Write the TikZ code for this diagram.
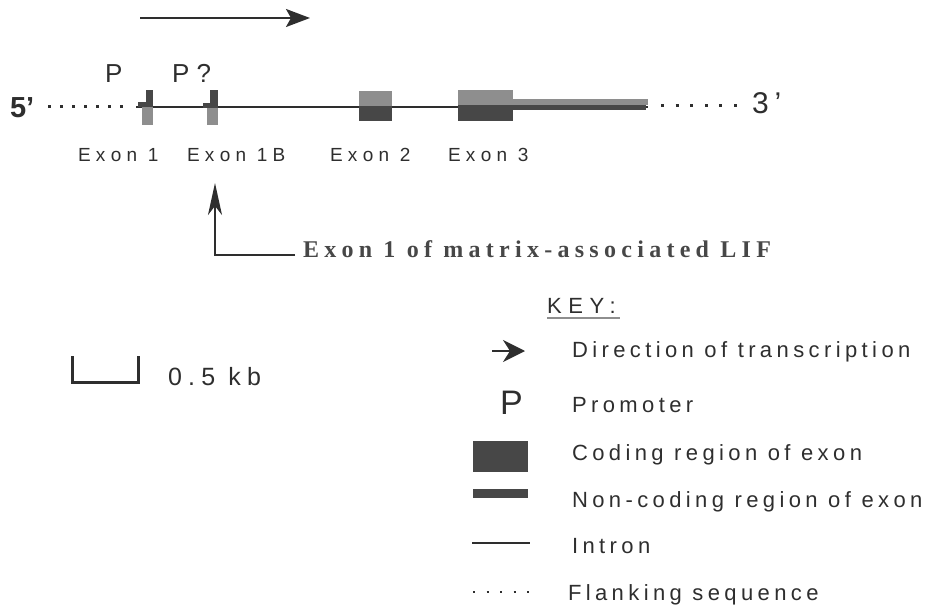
\documentclass[tikz,border=0pt]{standalone}
\usepackage{fontspec}
\setmainfont{Liberation Sans}
\newfontfamily\lifserif{Liberation Serif}
\usetikzlibrary{arrows.meta}
\definecolor{codedark}{HTML}{474747}
\definecolor{codelight}{HTML}{8E8E8E}
\definecolor{inkgray}{HTML}{2E2E2E}
\newcommand\spfont[2]{\fontsize{#1}{#1}\selectfont\addfontfeatures{LetterSpace=#2}}
\tikzset{
  txt/.style={inner sep=0pt, outer sep=0pt, anchor=base west, text=inkgray},
  exonlbl/.style={txt, font=\spfont{19}{28}},
  keylbl/.style={txt, font=\spfont{22}{20}},
  endlbl/.style={txt, font=\spfont{30}{20}},
  plbl/.style={txt, font=\fontsize{26}{26}\selectfont},
  flank/.style={draw=inkgray, line width=3pt, dash pattern=on 3pt off 9pt},
  intron/.style={draw=inkgray, line width=1.6pt},
  darkpart/.style={fill=codedark, draw=none},
  lightpart/.style={fill=codelight, draw=none},
  bigarrow/.style={draw=inkgray, line width=2pt, -{Stealth[length=24pt,width=18pt,inset=5pt]}},
}
\begin{document}
\begin{tikzpicture}[x=1pt,y=-1pt]
\useasboundingbox (0,0) rectangle (945,607);

% direction of transcription arrow
\coordinate (dirA) at (140,18);
\coordinate (dirB) at (310,18);
\draw[bigarrow] (dirA) -- (dirB);

% promoters
\node[plbl] (p1) at (105,83) {P};
\node[plbl] (p2) at (172,83) {P ?};

% ends
\node[txt, font=\bfseries\fontsize{29}{29}\selectfont] (five) at (10,118) {5’};
\node[endlbl] (three) at (752,114) {3’};

% flanking sequence
\coordinate (fl5a) at (48,107);
\coordinate (fl5b) at (130,107);
\coordinate (fl3a) at (661,106);
\coordinate (fl3b) at (737,106);
\draw[flank] (fl5a) -- (fl5b);
\draw[flank, dash pattern=on 3pt off 11.6pt] (fl3a) -- (fl3b);

% intron line
\coordinate (inA) at (136,107);
\coordinate (inB) at (648,107);
\draw[intron] (inA) -- (inB);

% exon 1
\fill[darkpart] (146,90) rectangle (153,107);
\fill[darkpart] (138,102) rectangle (153,107.5);
\fill[lightpart] (142,107.5) rectangle (153,125);
% exon 1B
\fill[darkpart] (210,90) rectangle (218,107);
\fill[darkpart] (203,103) rectangle (218,108);
\fill[lightpart] (207,108) rectangle (218,125);
% exon 2
\fill[lightpart] (359,91) rectangle (392,106);
\fill[darkpart] (359,106) rectangle (392,121);
% exon 3
\fill[lightpart] (458,90) rectangle (513,105);
\fill[darkpart] (458,105) rectangle (513,121);
% 3' UTR
\fill[lightpart] (513,99) rectangle (648,105);
\fill[darkpart] (513,105) rectangle (646,110);

% exon labels
\node[exonlbl] (e1) at (78,161) {Exon 1};
\node[exonlbl] (e1b) at (187,161) {Exon 1B};
\node[exonlbl] (e2) at (330,161) {Exon 2};
\node[exonlbl] (e3) at (448,161) {Exon 3};

% matrix-associated LIF
\node[txt, anchor=base west, font=\lifserif\bfseries\fontsize{24}{24}\selectfont\addfontfeatures{LetterSpace=22}, text=codedark] (lif) at (303,257) {Exon 1 of matrix-associated LIF};
\coordinate (liftip) at (215,183);
\coordinate (lifcorner) at (215,255);
\coordinate (lifstart) at (295,255);
\draw[draw=inkgray, line width=2.2pt, -{Stealth[length=32pt,width=14pt,inset=9pt]}] (lifstart) -- (lifcorner) -- (liftip);

% scale bar
\draw[draw=inkgray, line width=3pt] (72,356) -- (72,382) -- (138,382) -- (138,356);
\node[txt, font=\spfont{25}{25}] (scale) at (168,385) {0.5 kb};

% key
\node[keylbl, font=\spfont{22}{30}] (key) at (547,313) {KEY:};
\draw[draw=codelight, line width=2pt] (547,317.5) -- (620,317.5);

\coordinate (kaA) at (492,351);
\coordinate (kaB) at (525,351);
\draw[draw=inkgray, line width=2pt, -{Stealth[length=22pt,width=22pt,inset=7pt]}] (kaA) -- (kaB);
\node[keylbl] (kdir) at (572,357) {Direction of transcription};

\node[txt, font=\fontsize{34}{34}\selectfont] (kp) at (500,414) {P};
\node[keylbl] (kprom) at (572,412) {Promoter};

\fill[darkpart] (473,441) rectangle (528,472);
\node[keylbl] (kcod) at (572,460) {Coding region of exon};

\fill[darkpart] (473,489) rectangle (528,498);
\node[keylbl] (knon) at (572,507) {Non-coding region of exon};

\coordinate (kiA) at (472,543);
\coordinate (kiB) at (530,543);
\draw[intron] (kiA) -- (kiB);
\node[keylbl] (kint) at (572,553) {Intron};

\coordinate (kfA) at (473,592);
\coordinate (kfB) at (530,592);
\draw[flank, line width=2.2pt, dash pattern=on 2.2pt off 11.3pt] (kfA) -- (kfB);
\node[keylbl] (kfl) at (568,600) {Flanking sequence};
\end{tikzpicture}
\end{document}
